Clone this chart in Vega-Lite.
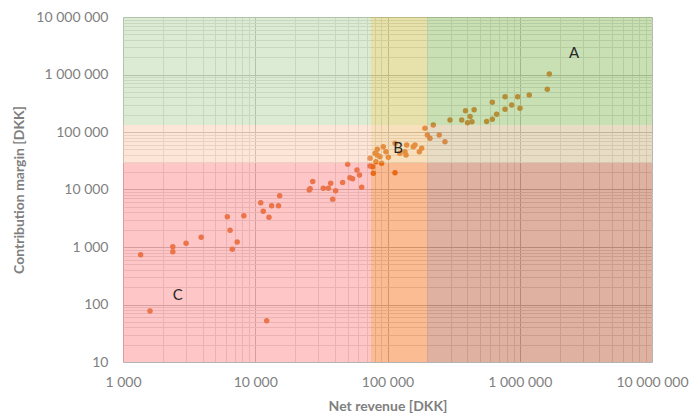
{
  "$schema": "https://vega.github.io/schema/vega-lite/v6.json",
  "width": 529,
  "height": 345,
  "autosize": {"type": "none"},
  "padding": {"left": 123, "top": 17, "right": 39, "bottom": 58},
  "background": "white",
  "config": {"view": {"stroke": null}, "font": "Lato"},
  "datasets": {
    "points": [
      {"x": 1360, "y": 730}, {"x": 1600, "y": 77}, {"x": 2380, "y": 1010}, {"x": 2380, "y": 830},
      {"x": 3000, "y": 1160}, {"x": 3900, "y": 1480}, {"x": 6150, "y": 3350}, {"x": 6450, "y": 1950},
      {"x": 7300, "y": 1220}, {"x": 6700, "y": 910}, {"x": 8200, "y": 3500}, {"x": 11000, "y": 5900},
      {"x": 11500, "y": 4200}, {"x": 13300, "y": 5200}, {"x": 15000, "y": 5200}, {"x": 15300, "y": 7800},
      {"x": 12700, "y": 3300}, {"x": 12200, "y": 52}, {"x": 25600, "y": 9800}, {"x": 26000, "y": 10300},
      {"x": 27200, "y": 13800}, {"x": 32700, "y": 10500}, {"x": 35700, "y": 10500}, {"x": 37200, "y": 12800},
      {"x": 40500, "y": 9500}, {"x": 38500, "y": 6800}, {"x": 45800, "y": 13300}, {"x": 50000, "y": 27400},
      {"x": 52000, "y": 16000}, {"x": 54500, "y": 15400}, {"x": 58800, "y": 21800}, {"x": 61400, "y": 17900},
      {"x": 63800, "y": 10900}, {"x": 73800, "y": 35000}, {"x": 73800, "y": 25600}, {"x": 77200, "y": 24900},
      {"x": 78100, "y": 19100}, {"x": 80500, "y": 42600}, {"x": 81800, "y": 30400}, {"x": 83700, "y": 39800},
      {"x": 83700, "y": 50000}, {"x": 87700, "y": 37200}, {"x": 90300, "y": 28600}, {"x": 92900, "y": 55500},
      {"x": 97400, "y": 45400}, {"x": 101500, "y": 36300}, {"x": 114000, "y": 63600}, {"x": 114000, "y": 19600},
      {"x": 124000, "y": 42600}, {"x": 135500, "y": 45400}, {"x": 139600, "y": 59400}, {"x": 138000, "y": 39800},
      {"x": 156700, "y": 55500}, {"x": 161400, "y": 59400}, {"x": 174000, "y": 45400}, {"x": 181400, "y": 52100},
      {"x": 192000, "y": 116000}, {"x": 200000, "y": 88700}, {"x": 209500, "y": 77700}, {"x": 222000, "y": 132000},
      {"x": 246000, "y": 88700}, {"x": 272000, "y": 67800}, {"x": 297000, "y": 162000}, {"x": 364000, "y": 162000},
      {"x": 389000, "y": 235000}, {"x": 421000, "y": 186000}, {"x": 452000, "y": 244000}, {"x": 435000, "y": 151000},
      {"x": 403000, "y": 145000}, {"x": 562000, "y": 152000}, {"x": 620000, "y": 166000}, {"x": 620000, "y": 328000},
      {"x": 669000, "y": 203000}, {"x": 774000, "y": 248000}, {"x": 774000, "y": 411000}, {"x": 869000, "y": 295000},
      {"x": 965000, "y": 411000}, {"x": 1004000, "y": 258000}, {"x": 1180000, "y": 440000}, {"x": 1615000, "y": 553000},
      {"x": 1673000, "y": 1020000}
    ],
    "zones": [
      {"zone": "TL", "x": 1000, "xe": 75000, "y": 132000, "ye": 10000000},
      {"zone": "TM", "x": 75000, "xe": 200000, "y": 132000, "ye": 10000000},
      {"zone": "TR", "x": 200000, "xe": 10000000, "y": 132000, "ye": 10000000},
      {"zone": "ML", "x": 1000, "xe": 75000, "y": 29000, "ye": 132000},
      {"zone": "MM", "x": 75000, "xe": 200000, "y": 29000, "ye": 132000},
      {"zone": "MR", "x": 200000, "xe": 10000000, "y": 29000, "ye": 132000},
      {"zone": "BL", "x": 1000, "xe": 75000, "y": 10, "ye": 29000},
      {"zone": "BM", "x": 75000, "xe": 200000, "y": 10, "ye": 29000},
      {"zone": "BR", "x": 200000, "xe": 10000000, "y": 10, "ye": 29000}
    ],
    "labels": [
      {"x": 2570000, "y": 2370000, "label": "A"},
      {"x": 120000, "y": 52700, "label": "B"},
      {"x": 2600, "y": 146, "label": "C"}
    ]
  },
  "encoding": {
    "x": {
      "field": "x", "type": "quantitative",
      "scale": {"type": "log", "domain": [1000, 10000000], "nice": false},
      "axis": {
        "title": "Net revenue [DKK]",
        "values": [1000,2000,3000,4000,5000,6000,7000,8000,9000,10000,20000,30000,40000,50000,60000,70000,80000,90000,100000,200000,300000,400000,500000,600000,700000,800000,900000,1000000,2000000,3000000,4000000,5000000,6000000,7000000,8000000,9000000,10000000],
        "labelExpr": "indexof([1000,10000,100000,1000000,10000000], datum.value) >= 0 ? replace(format(datum.value, ','), /,/g, ' ') : ''",
        "grid": true,
        "gridColor": {"condition": {"test": "indexof([1000,10000,100000,1000000,10000000], datum.value) >= 0", "value": "#b4b4b4"}, "value": "#dadada"},
        "ticks": false, "domain": false,
        "labelOverlap": false, "labelFlush": false,
        "labelPadding": 13, "labelFontSize": 14, "labelFont": "Lato", "labelColor": "#808080",
        "titleFont": "Lato", "titleFontSize": 14, "titleFontWeight": "bold", "titleColor": "#7f7f7f", "titlePadding": 10
      }
    },
    "y": {
      "field": "y", "type": "quantitative",
      "scale": {"type": "log", "domain": [10, 10000000], "nice": false},
      "axis": {
        "title": "Contribution margin [DKK]",
        "values": [10,20,30,40,50,60,70,80,90,100,200,300,400,500,600,700,800,900,1000,2000,3000,4000,5000,6000,7000,8000,9000,10000,20000,30000,40000,50000,60000,70000,80000,90000,100000,200000,300000,400000,500000,600000,700000,800000,900000,1000000,2000000,3000000,4000000,5000000,6000000,7000000,8000000,9000000,10000000],
        "labelExpr": "indexof([10,100,1000,10000,100000,1000000,10000000], datum.value) >= 0 ? replace(format(datum.value, ','), /,/g, ' ') : ''",
        "grid": true,
        "gridColor": {"condition": {"test": "indexof([10,100,1000,10000,100000,1000000,10000000], datum.value) >= 0", "value": "#b4b4b4"}, "value": "#dadada"},
        "ticks": false, "domain": false,
        "labelOverlap": false, "labelFlush": false,
        "labelPadding": 15, "labelFontSize": 14, "labelFont": "Lato", "labelColor": "#808080",
        "titleFont": "Lato", "titleFontSize": 14, "titleFontWeight": "bold", "titleColor": "#7f7f7f", "titlePadding": 9
      }
    }
  },
  "layer": [
    {
      "data": {"name": "points"},
      "mark": {"type": "circle", "size": 30, "opacity": 1, "color": "#dc6a1e"}
    },
    {
      "data": {"name": "zones"},
      "mark": {"type": "rect", "opacity": 0.45},
      "encoding": {
        "x2": {"field": "xe"},
        "y2": {"field": "ye"},
        "color": {
          "field": "zone", "type": "nominal", "legend": null,
          "scale": {
            "domain": ["TL", "TM", "TR", "ML", "MM", "MR", "BL", "BM", "BR"],
            "range": ["#b1d29f", "#c9bf45", "#85ba58", "#fbc7a8", "#efba6a", "#ceb17c", "#fd8080", "#f66a10", "#b8512c"]
          }
        }
      }
    },
    {
      "data": {"name": "labels"},
      "mark": {"type": "text", "font": "Lato", "fontSize": 15, "color": "#262626"},
      "encoding": {"text": {"field": "label"}}
    }
  ]
}
